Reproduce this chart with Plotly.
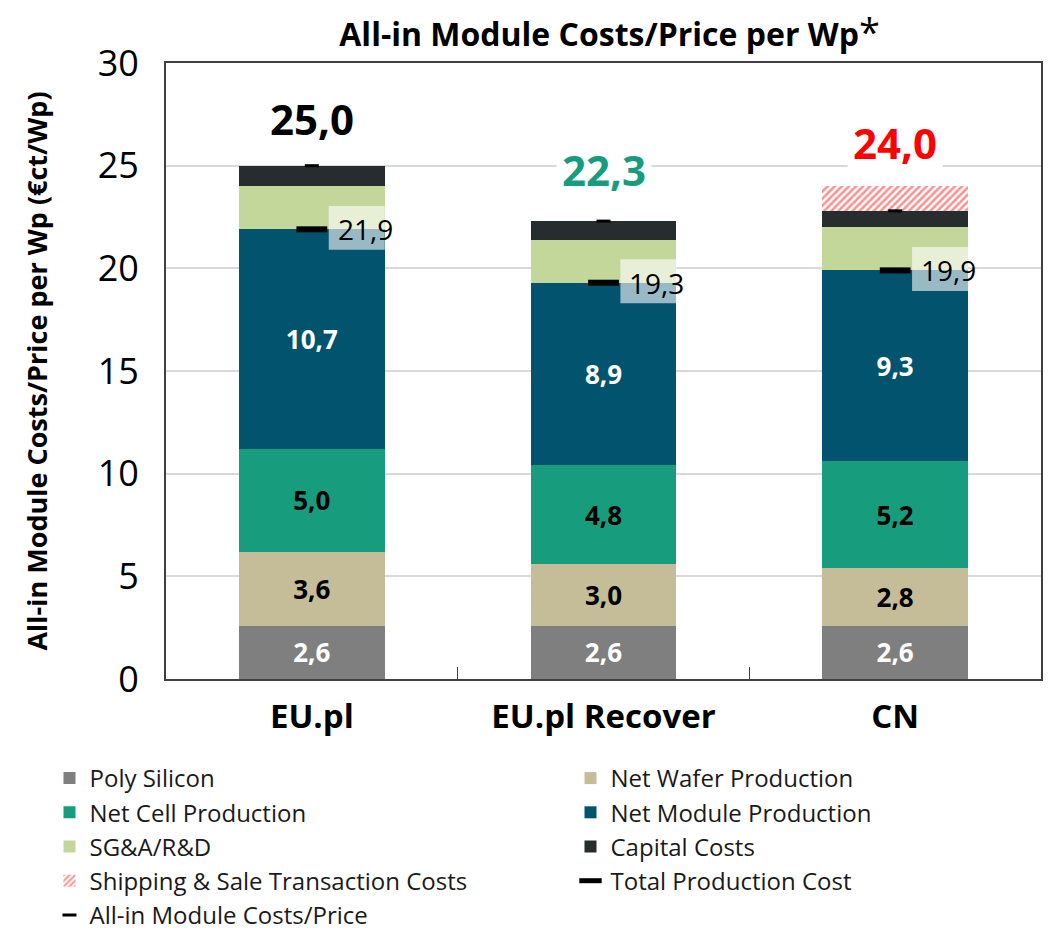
import plotly.graph_objects as go

# ---- data -------------------------------------------------------------
categories = ["EU.pl", "EU.pl Recover", "CN"]
poly_silicon = [2.6, 2.6, 2.6]
net_wafer = [3.6, 3.0, 2.8]
net_cell = [5.0, 4.8, 5.2]
net_module = [10.7, 8.9, 9.3]
sga_rnd = [2.1, 2.1, 2.1]
capital_costs = [1.0, 0.9, 0.8]
shipping_costs = [None, None, 1.2]
total_production_cost = [21.9, 19.3, 19.9]
all_in_marker = [25.0, 22.3, 22.8]
all_in_price = [25.0, 22.3, 24.0]
y_ticks = [0, 5, 10, 15, 20, 25, 30]

# ---- styling ----------------------------------------------------------
FONT = "Open Sans"
C_POLY = "#7f7f7f"
C_WAFER = "#c4bd97"
C_CELL = "#179c7d"
C_MODULE = "#02536e"
C_SGA = "#c4d79b"
C_CAPITAL = "#272c2e"
C_SHIP = "#ff1f1f"
price_label_colors = ["#000000", "#179c7d", "#ff0000"]
price_label_lift = [47, 52, 44]   # px above the stack top


def fmt(v):
    return f"{v:.1f}".replace(".", ",")


fig = go.Figure()


def add_segment(name, values, color, text_color=None, pattern=None):
    kw = {}
    if text_color is not None:
        kw = dict(
            texttemplate="<b>%{y:.1f}</b>",
            textposition="inside",
            insidetextanchor="middle",
            textangle=0,
            constraintext="none",
            textfont=dict(family=FONT, size=26, color=text_color),
        )
    marker = dict(color=color, line=dict(width=0))
    if pattern is not None:
        marker = dict(color="white", line=dict(width=0), pattern=pattern)
    fig.add_trace(go.Bar(name=name, x=categories, y=values, marker=marker,
                         width=0.5, hoverinfo="skip", **kw))


add_segment("Poly Silicon", poly_silicon, C_POLY, "white")
add_segment("Net Wafer Production", net_wafer, C_WAFER, "black")
add_segment("Net Cell Production", net_cell, C_CELL, "black")
add_segment("Net Module Production", net_module, C_MODULE, "white")
add_segment("SG&A/R&D", sga_rnd, C_SGA)
add_segment("Capital Costs", capital_costs, C_CAPITAL)
add_segment("Shipping & Sale Transaction Costs", shipping_costs, C_SHIP,
            pattern=dict(shape="/", fgcolor=C_SHIP, bgcolor="white",
                         size=5, solidity=0.5))

fig.add_trace(go.Scatter(
    name="Total Production Cost", x=categories, y=total_production_cost,
    mode="markers", hoverinfo="skip",
    marker=dict(symbol="line-ew", size=22, line=dict(width=6, color="black")),
))
fig.add_trace(go.Scatter(
    name="All-in Module Costs/Price", x=categories, y=all_in_marker,
    mode="markers", hoverinfo="skip",
    marker=dict(symbol="line-ew", size=10, line=dict(width=3, color="black")),
))

# production-cost value tags with translucent boxes
for i, v in enumerate(total_production_cost):
    fig.add_shape(type="rect", xref="x", yref="y",
                  x0=i + 0.058, x1=i + 0.25, y0=v - 1.0, y1=v + 1.14,
                  fillcolor="rgba(255,255,255,0.6)", line=dict(width=0),
                  layer="above")
    fig.add_annotation(x=i + 0.082, y=v, xanchor="left", yanchor="middle",
                       text=fmt(v), showarrow=False,
                       font=dict(family=FONT, size=28, color="black"))

# all-in price labels above each stack
for i, v in enumerate(all_in_price):
    fig.add_annotation(x=i, y=v, yanchor="middle", yshift=price_label_lift[i],
                       text=f"<b>{fmt(v)}</b>", showarrow=False,
                       bgcolor="white", borderpad=5,
                       font=dict(family=FONT, size=42,
                                 color=price_label_colors[i]))

fig.update_layout(
    width=1051, height=933,
    margin=dict(l=166, r=10, t=63, b=254, autoexpand=False),
    barmode="stack",
    bargap=0.5,
    separators=",.",
    paper_bgcolor="white",
    plot_bgcolor="white",
    font=dict(family=FONT, color="black"),
    title=dict(
        text="<b>All-in Module Costs/Price per Wp</b><span style='font-size:38px'>*</span>",
        x=0.58, xanchor="center", xref="container",
        y=1 - 35 / 933, yanchor="middle", yref="container",
        font=dict(family=FONT, size=32, color="black"),
    ),
    xaxis=dict(
        type="category",
        showline=True, linecolor="#404040", linewidth=2, mirror=True,
        ticks="inside", tickson="boundaries", ticklen=12, tickwidth=1,
        tickcolor="#404040",
        showgrid=False,
        tickfont=dict(family=FONT, size=33, color="black", weight="bold"),
        ticklabelstandoff=7,
    ),
    yaxis=dict(
        range=[0, 30], tickvals=y_ticks,
        showgrid=True, gridcolor="#d9d9d9", gridwidth=2,
        zeroline=False,
        showline=True, linecolor="#404040", linewidth=2, mirror=True,
        ticks="",
        tickfont=dict(family=FONT, size=36, color="black"),
        ticklabelstandoff=18,
        title=dict(text="<b>All-in Module Costs/Price per Wp (€ct/Wp)</b>",
                   font=dict(family=FONT, size=27, color="black"),
                   standoff=42),
    ),
    legend=dict(
        orientation="h",
        x=(49.5 - 166) / 875, xanchor="left",
        y=-(756 - 679) / 616, yanchor="top",
        entrywidth=476, entrywidthmode="pixels",
        traceorder="normal",
        font=dict(family=FONT, size=24, color="#1a1a1a"),
        bgcolor="rgba(0,0,0,0)",
    ),
    showlegend=True,
)

fig.write_html("out.html")
